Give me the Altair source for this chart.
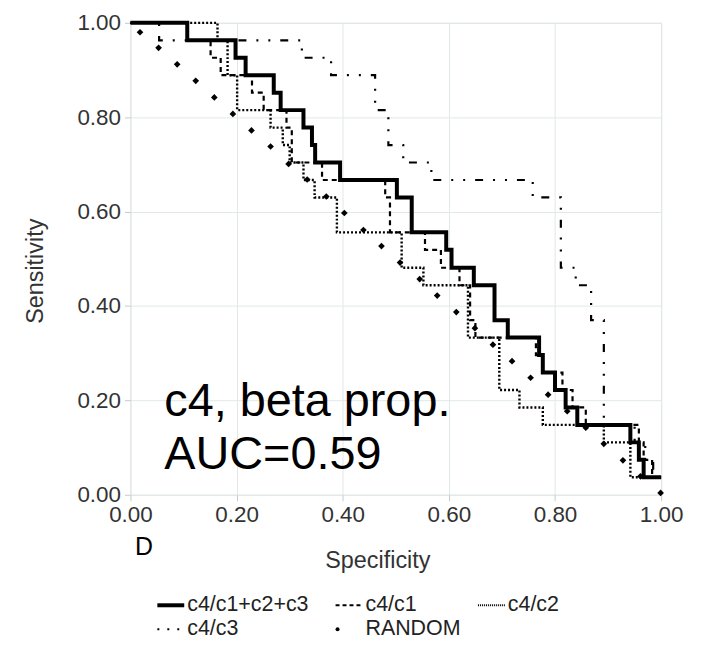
import altair as alt
import pandas as pd

# ---------------- data ----------------
# ROC step curves: specificity (x) where the sensitivity (y) changes
solid_x = [0, 0.107, 0.198, 0.217, 0.270, 0.283, 0.326, 0.342, 0.348, 0.395, 0.502, 0.530,
           0.595, 0.605, 0.647, 0.686, 0.711, 0.770, 0.777, 0.800, 0.820, 0.842, 0.942,
           0.958, 0.967, 1.0]
solid_y = [1, 0.963, 0.926, 0.889, 0.852, 0.815, 0.778, 0.741, 0.704, 0.667, 0.630, 0.556,
           0.519, 0.481, 0.444, 0.370, 0.333, 0.296, 0.259, 0.222, 0.185, 0.148, 0.111,
           0.074, 0.037, 0.037]

c1_x = [0, 0.107, 0.151, 0.170, 0.229, 0.251, 0.294, 0.304, 0.361, 0.480, 0.489, 0.555,
        0.585, 0.620, 0.640, 0.650, 0.764, 0.777, 0.814, 0.833, 0.858, 0.958, 0.967,
        0.983, 1.0]
c1_y = [1, 0.963, 0.926, 0.889, 0.852, 0.815, 0.778, 0.704, 0.667, 0.630, 0.556, 0.519,
        0.481, 0.444, 0.370, 0.333, 0.296, 0.259, 0.222, 0.185, 0.148, 0.111, 0.074,
        0.037, 0.037]

c2_x = [0, 0.164, 0.183, 0.201, 0.264, 0.287, 0.300, 0.326, 0.347, 0.389, 0.511, 0.552,
        0.636, 0.695, 0.733, 0.777, 0.892, 0.942, 1.0]
c2_y = [1, 0.963, 0.889, 0.815, 0.778, 0.741, 0.704, 0.667, 0.630, 0.556, 0.481, 0.444,
        0.333, 0.222, 0.185, 0.148, 0.111, 0.037, 0.037]

c3_x = [0, 0.054, 0.323, 0.378, 0.461, 0.486, 0.514, 0.567, 0.758, 0.811, 0.839, 0.868,
        0.892, 0.950, 0.970, 0.985, 1.0]
c3_y = [1, 0.963, 0.926, 0.889, 0.815, 0.741, 0.704, 0.667, 0.630, 0.481, 0.444, 0.370,
        0.148, 0.111, 0.074, 0.037, 0.037]

rand_x = [0.018, 0.053, 0.088, 0.123, 0.158, 0.193, 0.228, 0.264, 0.298, 0.333, 0.369,
          0.403, 0.439, 0.473, 0.508, 0.545, 0.578, 0.614, 0.649, 0.683, 0.719, 0.754,
          0.787, 0.823, 0.858, 0.892, 0.928, 0.961, 0.999]
rand_y = [0.980, 0.947, 0.912, 0.877, 0.842, 0.807, 0.772, 0.738, 0.701, 0.668, 0.632,
          0.597, 0.561, 0.527, 0.492, 0.457, 0.422, 0.387, 0.353, 0.318, 0.283, 0.248,
          0.212, 0.177, 0.142, 0.108, 0.073, 0.039, 0.004]

tick_values = [0.0, 0.2, 0.4, 0.6, 0.8, 1.0]
legend_labels = ["c4/c1+c2+c3", "c4/c1", "c4/c2", "c4/c3", "RANDOM"]
annotation_lines = ["c4, beta prop.", "AUC=0.59"]
panel_label = "D"
x_title = "Specificity"
y_title = "Sensitivity"

# ---------------- layout / style ----------------
W, H = 533, 474
FONT = "Liberation Sans"
LABEL_COLOR = "#333333"
GRID = "#e1e8e8"

xs = alt.Scale(domain=[0, 1], nice=False, zero=False)
ys = alt.Scale(domain=[0, 1], nice=False, zero=False)

xaxis = alt.Axis(values=tick_values, format=".2f", title=None, grid=True, gridColor=GRID,
                 domain=False, tickSize=6, tickColor="#c4cbcb", labelFontSize=22.5,
                 labelFont=FONT, labelColor=LABEL_COLOR, labelPadding=3, labelFlush=False)
yaxis = alt.Axis(values=tick_values, format=".2f", title=None, grid=True, gridColor=GRID,
                 domain=False, tickSize=6, tickColor="#c4cbcb", labelFontSize=22.5,
                 labelFont=FONT, labelColor=LABEL_COLOR, labelPadding=4, labelFlush=False)

styles = {
    "c4/c1+c2+c3": dict(strokeWidth=4),
    "c4/c1": dict(strokeWidth=2.2, strokeDash=[5, 4]),
    "c4/c2": dict(strokeWidth=2.4, strokeDash=[2, 2]),
    "c4/c3": dict(strokeWidth=2.2, strokeDash=[8, 10, 2, 10, 2, 10]),
}
curves = {
    "c4/c3": (c3_x, c3_y),
    "c4/c2": (c2_x, c2_y),
    "c4/c1": (c1_x, c1_y),
    "c4/c1+c2+c3": (solid_x, solid_y),
}

layers = []
for name, (xv, yv) in curves.items():
    df = pd.DataFrame({"x": xv, "y": yv})
    layers.append(
        alt.Chart(df).mark_line(interpolate="step-after", color="black", **styles[name]).encode(
            x=alt.X("x:Q", scale=xs, axis=xaxis),
            y=alt.Y("y:Q", scale=ys, axis=yaxis),
        )
    )

rand_df = pd.DataFrame({"x": rand_x, "y": rand_y})
layers.append(
    alt.Chart(rand_df).mark_point(shape="diamond", filled=True, color="black", size=45, opacity=1).encode(
        x=alt.X("x:Q", scale=xs, axis=xaxis),
        y=alt.Y("y:Q", scale=ys, axis=yaxis),
    )
)

one = pd.DataFrame({"a": [0]})

# annotation text
for i, t in enumerate(annotation_lines):
    layers.append(
        alt.Chart(one).mark_text(text=t, font=FONT, fontSize=47, align="left",
                                 baseline="alphabetic", color="black").encode(
            x=alt.value(34), y=alt.value(395 + i * 53.5))
    )

# panel label and axis titles
layers.append(alt.Chart(one).mark_text(text=panel_label, font=FONT, fontSize=25, align="center",
                                       baseline="middle", color="black").encode(
    x=alt.value(13.5), y=alt.value(526.5)))
layers.append(alt.Chart(one).mark_text(text=x_title, font=FONT, fontSize=23.5, align="center",
                                       baseline="middle", color=LABEL_COLOR).encode(
    x=alt.value(248.5), y=alt.value(540.5)))
layers.append(alt.Chart(one).mark_text(text=y_title, font=FONT, fontSize=23.5, align="center",
                                       baseline="middle", angle=270, color=LABEL_COLOR).encode(
    x=alt.value(-95), y=alt.value(249.5)))

# manual legend (3 columns, 2 rows)
col_x = [27, 206, 349]
row_y = [585, 609]
legend_dash = {
    "c4/c1+c2+c3": dict(strokeWidth=4),
    "c4/c1": dict(strokeWidth=2, strokeDash=[4, 3]),
    "c4/c2": dict(strokeWidth=2, strokeDash=[1, 1]),
    "c4/c3": dict(strokeWidth=2, strokeDash=[2, 8]),
}
for i, lab in enumerate(legend_labels):
    cx = col_x[i % 3]
    cy = row_y[i // 3]
    if lab == "RANDOM":
        layers.append(alt.Chart(one).mark_point(shape="circle", filled=True, color="black",
                                                size=16, opacity=1).encode(
            x=alt.value(cx + 2), y=alt.value(cy)))
    else:
        layers.append(alt.Chart(one).mark_rule(color="black", **legend_dash[lab]).encode(
            x=alt.value(cx), x2=alt.value(cx + 27), y=alt.value(cy)))
    layers.append(alt.Chart(one).mark_text(text=lab, font=FONT, fontSize=21.5, align="left",
                                           baseline="middle", color="#222222").encode(
        x=alt.value(cx + 30), y=alt.value(cy)))

chart = alt.layer(*layers).properties(
    width=W, height=H,
    autosize=alt.AutoSizeParams(type="none"),
    padding={"left": 123, "top": 13.5, "right": 35, "bottom": 148},
).configure_view(stroke=None).configure(background="white")

chart.save("out.html", embed_options={"renderer": "svg", "actions": False})
